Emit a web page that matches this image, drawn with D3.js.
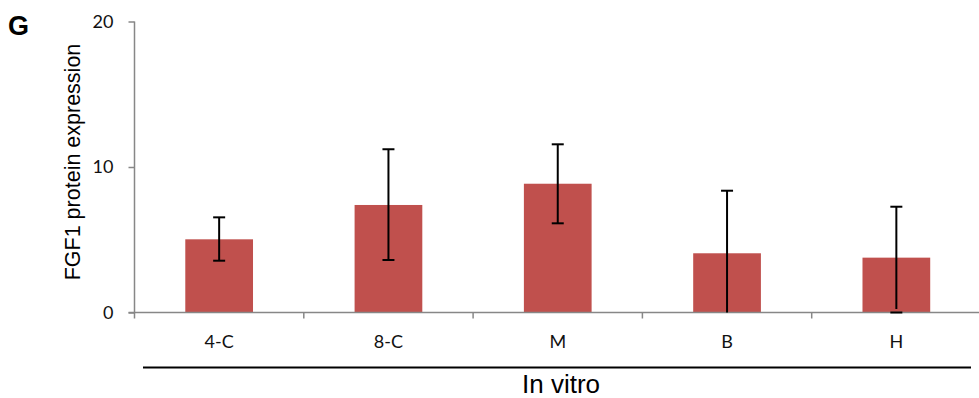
<!DOCTYPE html>
<html>
<head>
<meta charset="utf-8">
<script src="https://cdn.jsdelivr.net/npm/d3@7"></script>
<style>
	body { margin: 0; background: white; }
	svg { display: block; }
</style>
</head>
<body>
<svg class="svgChart"></svg>
<script>
// data
var stages = ['4-C', '8-C', 'M', 'B', 'H'];
var means = [5.03, 7.39, 8.85, 4.07, 3.77];
var errHigh = [6.54, 11.22, 11.56, 8.37, 7.27];
var errLow = [3.56, 3.61, 6.13, 0, 0.24];
var yTicks = [0, 10, 20];

var width = 979, height = 398;
var plotLeft = 134.5, plotRight = 981, plotTop = 21.5, plotBottom = 312.5;

var svg = d3.select('svg.svgChart').attr('width', width).attr('height', height);

var x = d3.scaleBand().domain(stages).range([plotLeft, plotRight]).paddingInner(0.6).paddingOuter(0.3);
var y = d3.scaleLinear().domain([0, 20]).range([plotBottom, plotTop]);

// bars
svg.append('g').selectAll('rect').data(stages).join('rect')
	.attr('x', d => x(d))
	.attr('width', x.bandwidth())
	.attr('y', (d, i) => y(means[i]))
	.attr('height', (d, i) => plotBottom - y(means[i]))
	.style('fill', '#c0504d');

// y axis
var yaxis = svg.append('g').attr('transform', 'translate(' + plotLeft + ',0)')
	.call(d3.axisLeft(y).tickValues(yTicks).tickSize(6).tickSizeOuter(0).tickPadding(15));
yaxis.select('.domain').attr('d', 'M0,' + plotTop + 'V' + plotBottom);

// x axis, ticks on category boundaries
var bounds = d3.range(stages.length + 1).map(i => plotLeft + i * x.step());
var xaxis = svg.append('g').attr('class', 'xaxis');
xaxis.append('line')
	.attr('x1', plotLeft - 6).attr('x2', plotRight).attr('y1', plotBottom).attr('y2', plotBottom);
xaxis.selectAll('line.tk').data(bounds).join('line').attr('class', 'tk')
	.attr('x1', d => d).attr('x2', d => d).attr('y1', plotBottom).attr('y2', plotBottom + 6);
xaxis.selectAll('text').data(stages).join('text')
	.attr('x', d => x(d) + x.bandwidth() / 2)
	.attr('y', 348)
	.attr('text-anchor', 'middle')
	.text(d => d);

svg.selectAll('g .domain, g .tick line, .xaxis line')
	.style('stroke', '#878787').style('stroke-width', 1.5);
svg.selectAll('g .tick text, .xaxis text')
	.style('font-family', 'Lato, "Open Sans", sans-serif').style('font-size', '18px').style('fill', '#111');

// error bars
var eb = svg.append('g').selectAll('g').data(stages).join('g')
	.attr('transform', d => 'translate(' + (x(d) + x.bandwidth() / 2) + ',0)');
eb.append('line')
	.attr('y1', (d, i) => y(errHigh[i]))
	.attr('y2', (d, i) => y(errLow[i]));
eb.append('line')
	.attr('x1', -6).attr('x2', 6)
	.attr('y1', (d, i) => y(errHigh[i])).attr('y2', (d, i) => y(errHigh[i]));
eb.filter((d, i) => errLow[i] > 0).append('line')
	.attr('x1', -6).attr('x2', 6)
	.attr('y1', (d, i) => y(errLow[i])).attr('y2', (d, i) => y(errLow[i]));
eb.selectAll('line').style('stroke', 'black').style('stroke-width', 2);

// labels
svg.append('text')
	.attr('transform', 'translate(80,162) rotate(-90)')
	.attr('text-anchor', 'middle')
	.style('font-family', '"Liberation Sans", Arial, sans-serif').style('font-size', '21.5px')
	.text('FGF1 protein expression');

svg.append('line')
	.attr('x1', 143).attr('x2', 971).attr('y1', 367.5).attr('y2', 367.5)
	.style('stroke', 'black').style('stroke-width', 2);

svg.append('text')
	.attr('x', 561).attr('y', 393)
	.attr('text-anchor', 'middle')
	.style('font-family', '"Liberation Sans", Arial, sans-serif').style('font-size', '26px')
	.text('In vitro');

svg.append('text')
	.attr('x', 8).attr('y', 35)
	.style('font-family', '"Liberation Sans", Arial, sans-serif').style('font-size', '27px').style('font-weight', 'bold')
	.text('G');
</script>
</body>
</html>
